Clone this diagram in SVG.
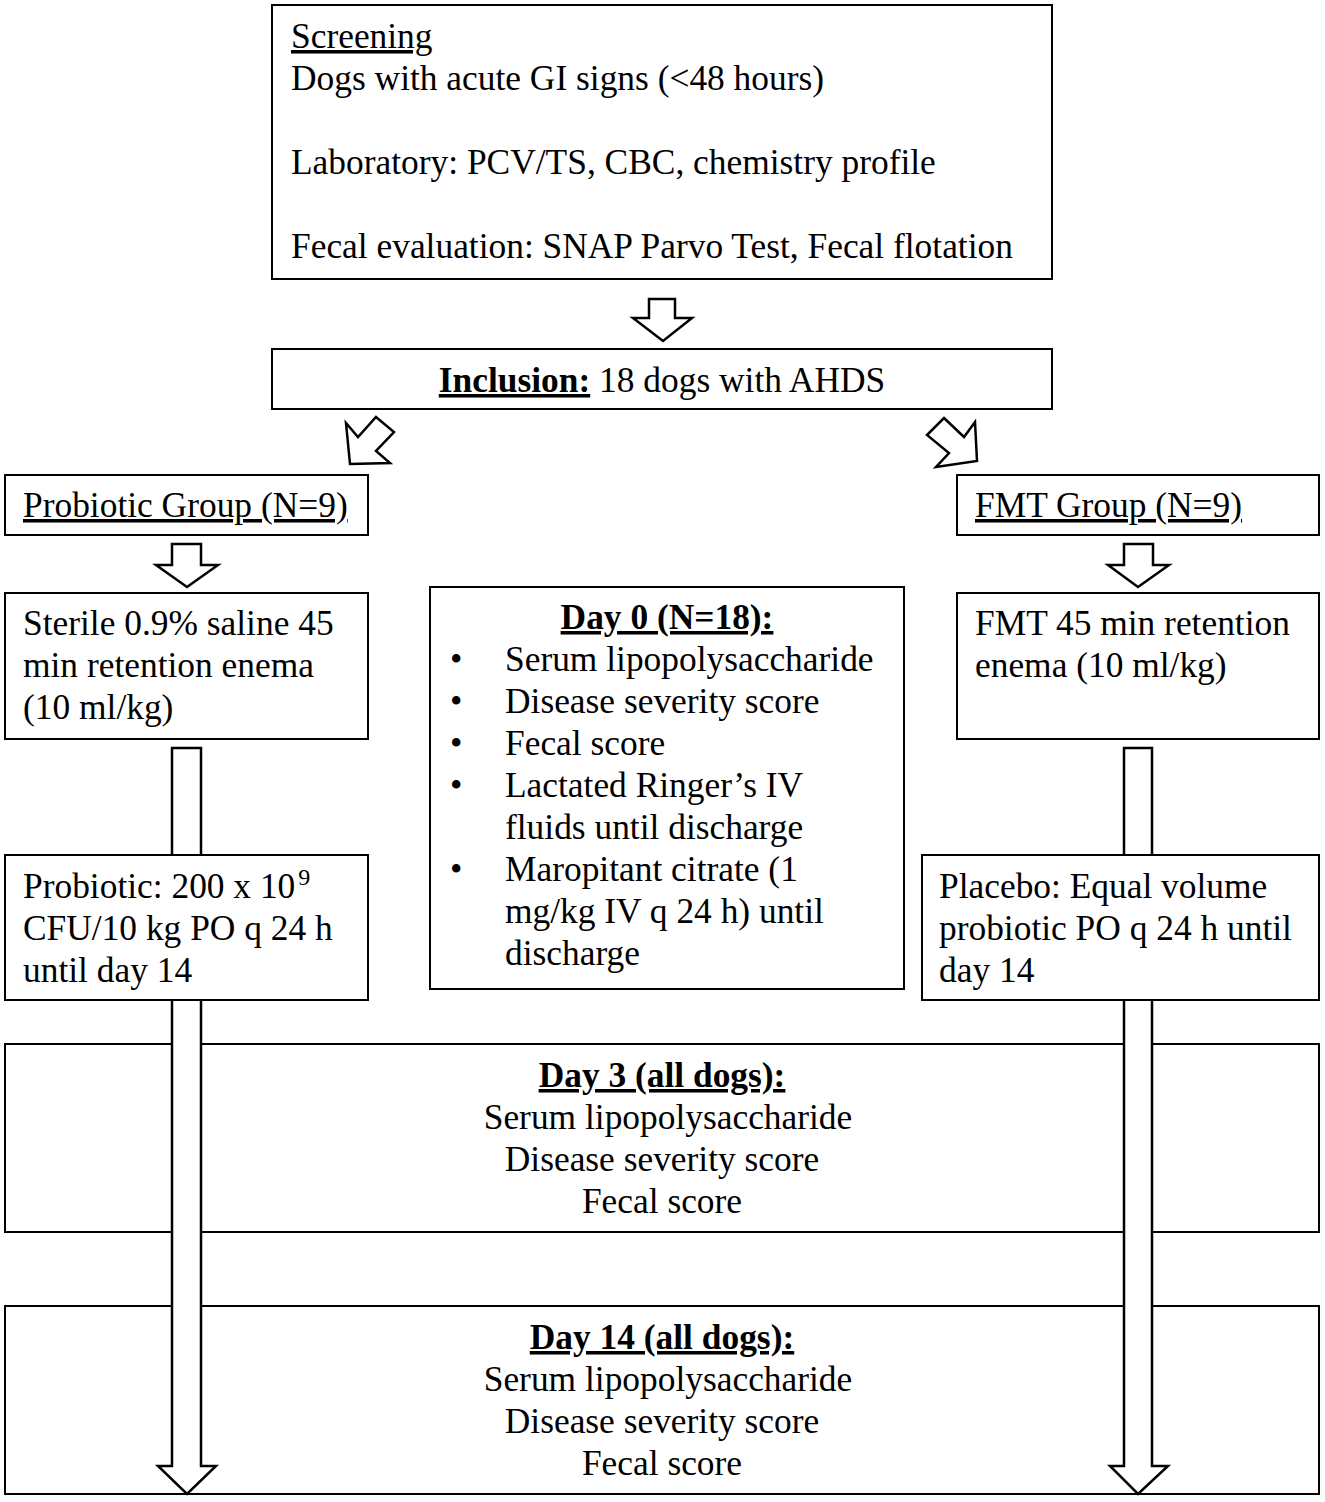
<svg xmlns="http://www.w3.org/2000/svg" width="1325" height="1502" viewBox="0 0 1325 1502">
<style>
.box{fill:#fff;stroke:#000;stroke-width:2}
.arr{fill:#fff;stroke:#000;stroke-width:2.5;stroke-linejoin:miter}
text{font-family:"Liberation Serif","Times New Roman",serif;font-size:35.4px;fill:#000}
.c{text-anchor:middle}
.b{font-weight:bold}
.u{text-decoration:underline}
</style>
<rect width="1325" height="1502" fill="#fff"/>
<g id="day3">
<rect class="box" x="5" y="1044" width="1314" height="188"/>
<text class="c" x="662" y="1087"><tspan class="b u">Day 3 (all dogs):</tspan></text>
<text class="c" x="668" y="1129">Serum lipopolysaccharide</text>
<text class="c" x="662" y="1171">Disease severity score</text>
<text class="c" x="662" y="1213">Fecal score</text>
</g>
<g id="day14">
<rect class="box" x="5" y="1306" width="1314" height="188"/>
<text class="c" x="662" y="1349"><tspan class="b u">Day 14 (all dogs):</tspan></text>
<text class="c" x="668" y="1391">Serum lipopolysaccharide</text>
<text class="c" x="662" y="1433">Disease severity score</text>
<text class="c" x="662" y="1475">Fecal score</text>
</g>
<g id="connectors">
<polygon class="arr" points="649,299 675,299 675,318 692,318 663,341 633,318 649,318"/>
<polygon class="arr" points="350,464 346,423 358,437 376,417 394,432 376,451 390,463"/>
<polygon class="arr" points="944,418 964,437 975,422 977,461 936,467 949,453 927,435"/>
<polygon class="arr" points="172,544 201,544 201,565 218,565 187,587 156,565 172,565"/>
<polygon class="arr" points="1124,544 1153,544 1153,565 1169,565 1138,587 1108,565 1124,565"/>
<polygon class="arr" points="172,748 201,748 201,1466 216,1466 187,1494 158,1466 172,1466"/>
<polygon class="arr" points="1124,748 1152,748 1152,1466 1168,1466 1138,1494 1110,1466 1124,1466"/>
</g>
<g id="screening">
<rect class="box" x="272" y="5" width="780" height="274"/>
<text x="291" y="48" class="u">Screening</text>
<text x="291" y="90">Dogs with acute GI signs (&lt;48 hours)</text>
<text x="291" y="174">Laboratory: PCV/TS, CBC, chemistry profile</text>
<text x="291" y="258">Fecal evaluation: SNAP Parvo Test, Fecal flotation</text>
</g>
<g id="inclusion">
<rect class="box" x="272" y="349" width="780" height="60"/>
<text class="c" x="662" y="392"><tspan class="b u">Inclusion:</tspan> 18 dogs with AHDS</text>
</g>
<g id="probiotic-group">
<rect class="box" x="5" y="475" width="363" height="60"/>
<text x="23" y="517" class="u">Probiotic Group (N=9)</text>
</g>
<g id="fmt-group">
<rect class="box" x="957" y="475" width="362" height="60"/>
<text x="975" y="517" class="u">FMT Group (N=9)</text>
</g>
<g id="saline-enema">
<rect class="box" x="5" y="593" width="363" height="146"/>
<text x="23" y="635">Sterile 0.9% saline 45</text>
<text x="23" y="677">min retention enema</text>
<text x="23" y="719">(10 ml/kg)</text>
</g>
<g id="fmt-enema">
<rect class="box" x="957" y="593" width="362" height="146"/>
<text x="975" y="635">FMT 45 min retention</text>
<text x="975" y="677">enema (10 ml/kg)</text>
</g>
<g id="day0">
<rect class="box" x="430" y="587" width="474" height="402"/>
<text class="c" x="667" y="629"><tspan class="b u">Day 0 (N=18):</tspan></text>
<text x="450" y="671">•</text><text x="505" y="671">Serum lipopolysaccharide</text>
<text x="450" y="713">•</text><text x="505" y="713">Disease severity score</text>
<text x="450" y="755">•</text><text x="505" y="755">Fecal score</text>
<text x="450" y="797">•</text><text x="505" y="797">Lactated Ringer’s IV</text>
<text x="505" y="839">fluids until discharge</text>
<text x="450" y="881">•</text><text x="505" y="881">Maropitant citrate (1</text>
<text x="505" y="923">mg/kg IV q 24 h) until</text>
<text x="505" y="965">discharge</text>
</g>
<g id="probiotic-treatment">
<rect class="box" x="5" y="855" width="363" height="145"/>
<text x="23" y="898">Probiotic: 200 x 10<tspan font-size="24" dy="-13" dx="3">9</tspan></text>
<text x="23" y="940">CFU/10 kg PO q 24 h</text>
<text x="23" y="982">until day 14</text>
</g>
<g id="placebo">
<rect class="box" x="922" y="855" width="397" height="145"/>
<text x="939" y="898">Placebo: Equal volume</text>
<text x="939" y="940">probiotic PO q 24 h until</text>
<text x="939" y="982">day 14</text>
</g>
</svg>
